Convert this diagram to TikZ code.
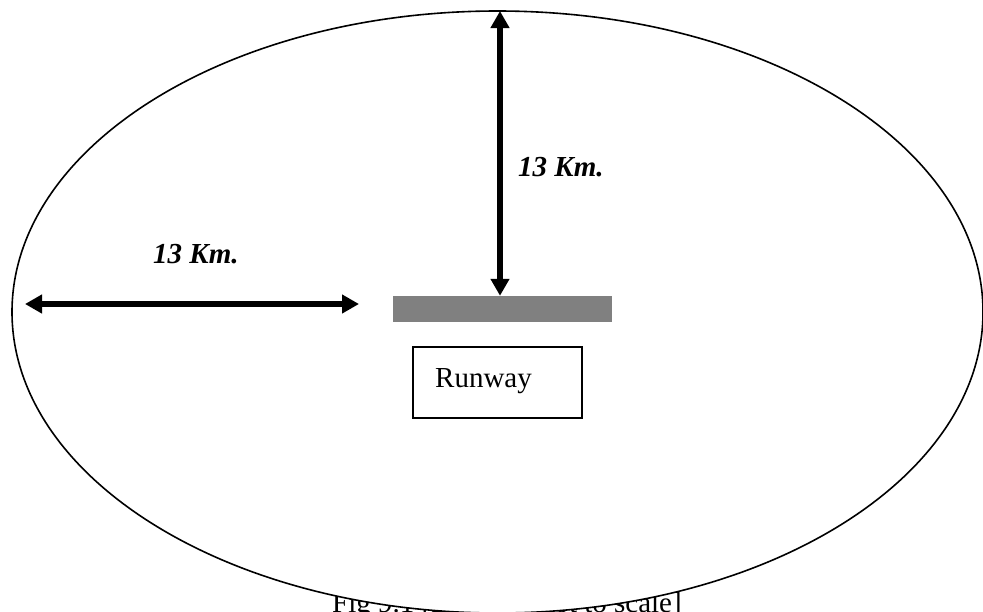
\documentclass[tikz,border=0pt]{standalone}
\usepackage{fontspec}
\setmainfont{Liberation Serif}
\usetikzlibrary{arrows.meta}
\begin{document}
\begin{tikzpicture}[x=1pt,y=-1pt,
  dimarrow/.style={line width=5.5pt,{Triangle[width=18pt,length=17pt]}-{Triangle[width=18pt,length=17pt]}},
  dimlabel/.style={font=\fontsize{29}{34}\selectfont\bfseries\itshape,anchor=base west,inner sep=0pt},
  plaintext/.style={font=\fontsize{29}{34}\selectfont,anchor=base west,inner sep=0pt},
  runwaybar/.style={fill={rgb,255:red,128;green,128;blue,128},draw=none,inner sep=0pt,minimum width=219pt,minimum height=26pt},
  labelbox/.style={draw,line width=1.4pt,inner sep=0pt,minimum width=169pt,minimum height=71pt}]
\useasboundingbox (0,0) rectangle (983,611);
% caption (partly hidden behind the white ellipse)
\node[plaintext] (caption) at (332,612) {Fig 9.1 [Drawing not to scale]};
% boundary ellipse
\draw[line width=1.6pt,fill=white] (497.5,312) ellipse [x radius=485.5pt,y radius=301pt];
% runway
\node[runwaybar] (bar) at (502.5,309) {};
\node[labelbox] (box) at (497.5,382.5) {};
\node[plaintext] (rwtext) at (435,387) {Runway};
% dimension arrows
\coordinate (vtop) at (500,11);
\coordinate (hleft) at (25,304);
\coordinate (hright) at (359,304);
\draw[dimarrow] (vtop |- bar.north) -- (vtop);
\draw[dimarrow] (hleft) -- (hright);
% labels
\node[dimlabel] (lblleft) at (153,263) {13 Km.};
\node[dimlabel] (lbltop) at (518,176) {13 Km.};
\end{tikzpicture}
\end{document}
